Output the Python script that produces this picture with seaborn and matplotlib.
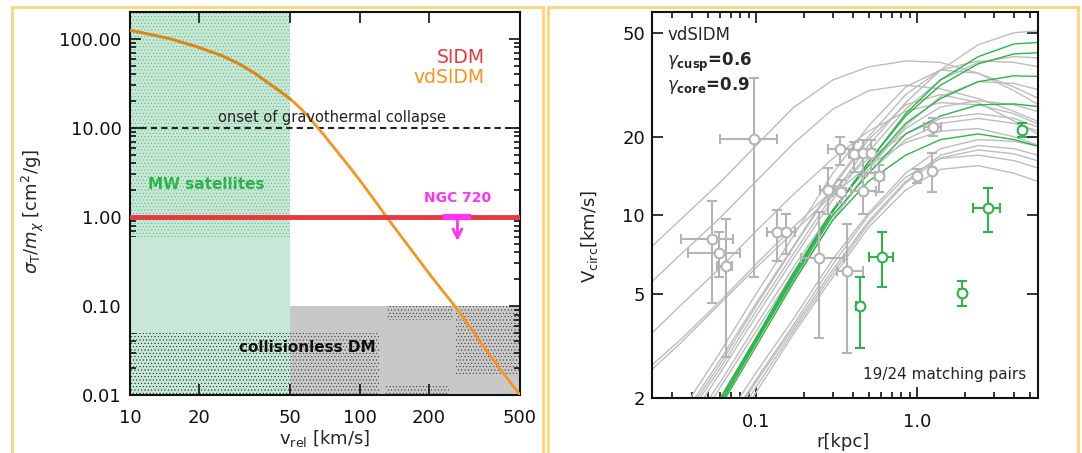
import matplotlib
matplotlib.use("Agg")
import matplotlib.pyplot as plt
from matplotlib.patches import Rectangle
from matplotlib.ticker import FixedLocator, FixedFormatter, NullLocator, NullFormatter
import numpy as np
import pandas as pd
import seaborn as sns

# ---- left panel: cross section vs relative velocity ----
v_rel = [10, 15, 20, 25, 30, 35, 40, 45, 50, 55, 60, 65, 70, 80, 90, 100, 115, 130,
         150, 170, 200, 230, 260, 300, 350, 420, 500]
sigma_vd = [125, 100, 80, 65, 52, 41, 32, 25.8, 21, 16.8, 13.3, 10.4, 8.3, 5.4, 3.7,
            2.6, 1.6, 1.03, 0.63, 0.41, 0.235, 0.148, 0.1, 0.06, 0.034, 0.018, 0.01]
sigma_sidm = 1.0
sigma_collapse = 10.0
mw_v = [10, 50]
cdm_v = [50, 500]
cdm_sigma = [0.01, 0.1]
ngc720_v = [232, 307]
ngc720_limit = 1.0
ngc720_arrow = [267, 0.5]
v_ticks = [10, 20, 50, 100, 200, 500]
v_ticklabels = ["10", "20", "50", "100", "200", "500"]
s_ticks = [0.01, 0.1, 1, 10, 100]
s_ticklabels = ["0.01", "0.10", "1.00", "10.00", "100.00"]

# ---- right panel: rotation curves ----
r_grid = [0.02, 0.035, 0.06, 0.1, 0.17, 0.3, 0.5, 0.85, 1.4, 2.4, 4.0, 6.0]
gray_curves = {
    "c2": [7.1, 9.8, 13.4, 18.5, 25.8, 33, 37, 39, 38.5, 35, 30, 26],
    "c3": [5.2, 7.2, 9.8, 13.5, 18.8, 25.5, 30, 31.5, 30.5, 28, 25, 22.5],
    "c4": [3.3, 4.6, 6.3, 8.7, 12, 16.5, 21, 25, 27, 26.5, 24.5, 22],
    "c5": [2.5, 3.4, 4.7, 6.5, 9, 12.5, 16.5, 20.5, 23.5, 24.5, 23.5, 21.5],
    "c6": [2.4, 3.3, 4.6, 6.3, 8.6, 12, 15.5, 19, 21, 21.5, 20, 18.3],
    "k1": [0.9, 1.6, 2.6, 4.3, 7.1, 12, 18.5, 27, 36, 45, 50, 51],
    "k2": [0.85, 1.5, 2.5, 4.1, 6.8, 11.5, 17.5, 25.5, 33, 38.5, 40.5, 40],
    "k3": [1.0, 1.7, 2.8, 4.6, 7.6, 13, 20, 29, 36, 39, 38.5, 36.8],
    "k4": [1.05, 1.8, 3.0, 5.0, 8.3, 14.5, 22, 31, 36, 35, 31, 27.6],
    "k5": [0.8, 1.4, 2.3, 3.8, 6.3, 10.5, 15.5, 21.5, 26, 27.5, 26.5, 24.7],
    "k6": [0.75, 1.3, 2.2, 3.6, 6.0, 10, 14.5, 19.5, 22.5, 23.5, 22.5, 20.8],
    "k7": [0.55, 0.95, 1.55, 2.5, 4.0, 6.8, 10.2, 14.5, 18, 19.5, 19.2, 18.3],
    "k8": [0.5, 0.85, 1.4, 2.3, 3.7, 6.2, 9.5, 13.5, 17, 18.5, 18, 16.8],
    "k9": [0.5, 0.85, 1.35, 2.2, 3.6, 6.0, 9.3, 13.3, 16.6, 17.8, 17.2, 16],
    "k10": [0.45, 0.8, 1.3, 2.1, 3.5, 5.8, 9.0, 12.5, 15, 15.5, 14.5, 13.3],
    "k11": [0.7, 1.2, 2.0, 3.3, 5.6, 9.6, 15, 22, 28.5, 32.5, 32, 30],
    "k12": [0.95, 1.65, 2.7, 4.5, 7.5, 12.8, 19.5, 26.5, 29, 27, 23, 20],
    "k13": [0.5, 0.9, 1.45, 2.35, 3.8, 6.5, 10, 14, 16.5, 17, 16.2, 15],
}
green_curves = {
    "ga": [0.55, 1.05, 1.9, 3.3, 5.8, 10.3, 16, 24.5, 33, 40.5, 45.3, 46],
    "gb": [0.55, 1.05, 1.95, 3.35, 5.9, 10.4, 16, 24, 31.5, 38, 41.5, 42],
    "gc": [0.56, 1.08, 2.0, 3.4, 6.0, 10.5, 15.5, 22.5, 28, 32.5, 34.2, 34],
    "gd": [0.54, 1.02, 1.9, 3.25, 5.7, 10, 14.5, 20.5, 24, 26.5, 26.7, 26],
    "ge": [0.53, 1.0, 1.85, 3.15, 5.5, 9.6, 13.5, 17, 19.5, 20.5, 19.5, 18.2],
}

# data points: r, V, r_lo, r_hi, V_lo, V_hi
gray_r = [0.097, 0.053, 0.059, 0.065, 0.135, 0.154, 0.246, 0.37, 0.333, 0.406, 0.46, 0.52,
          0.28, 0.337, 0.46, 0.58, 1.0, 1.25, 1.24]
gray_v = [19.6, 8.1, 7.2, 6.4, 8.6, 8.6, 6.85, 6.1, 17.9, 17.1, 17.3, 17.3,
          12.5, 12.3, 12.4, 14.2, 14.2, 21.8, 14.8]
gray_r_lo = [0.060, 0.034, 0.038, 0.057, 0.117, 0.140, 0.19, 0.32, 0.28, 0.38, 0.44, 0.50,
             0.25, 0.30, 0.39, 0.55, 0.97, 1.10, 1.20]
gray_r_hi = [0.135, 0.072, 0.080, 0.071, 0.150, 0.175, 0.35, 0.46, 0.40, 0.43, 0.48, 0.55,
             0.31, 0.36, 0.56, 0.62, 1.03, 1.40, 1.28]
gray_v_lo = [5.8, 4.6, 5.8, 2.87, 6.7, 7.1, 3.4, 2.97, 15.6, 14.7, 14.5, 14.5,
             10.1, 11.2, 10.1, 12.3, 13.3, 20.1, 12.3]
gray_v_hi = [33.6, 11.4, 8.6, 9.7, 10.5, 10.1, 10.3, 9.3, 20.0, 19.1, 19.5, 19.5,
             15.2, 13.7, 14.1, 15.6, 15.0, 23.6, 17.4]

green_r = [0.44, 0.61, 1.9, 2.76, 4.5]
green_v = [4.5, 6.9, 5.05, 10.7, 21.3]
green_r_lo = [0.42, 0.50, 1.82, 2.23, 4.35]
green_r_hi = [0.46, 0.71, 1.98, 3.28, 4.65]
green_v_lo = [3.1, 5.3, 4.5, 8.6, 20.0]
green_v_hi = [5.8, 8.6, 5.6, 12.7, 22.6]

r_ticks = [0.1, 1.0]
r_ticklabels = ["0.1", "1.0"]
vc_ticks = [2, 5, 10, 20, 50]
vc_ticklabels = ["2", "5", "10", "20", "50"]

sns.set_style("ticks")
plt.rcParams["font.family"] = ["DejaVu Sans"]
plt.rcParams["hatch.linewidth"] = 0.3

GREEN_FILL = "#C8E7D6"
GREEN_DOT = "#3DB56C"
GRAY_FILL = "#C8C8C8"
ORANGE = "#F7941D"
ORANGE_DARK = "#D4891E"
RED = "#E8383F"
MAGENTA = "#FF33F5"
GREEN = "#2FB34A"
LGRAY = "#BDBDBD"
FRAME = "#FFD37A"

fig = plt.figure(figsize=(10.82, 4.53), dpi=100)
ax1 = fig.add_axes([0.1201, 0.128, 0.3605, 0.8455])
ax2 = fig.add_axes([0.6026, 0.1214, 0.3567, 0.852])

# panel frames
for x0, x1 in [(12, 543), (548, 1078)]:
    fig.patches.append(Rectangle((x0 / 1082, -0.1), (x1 - x0) / 1082, 1.1 - 7 / 453,
                                 transform=fig.transFigure, fill=False,
                                 edgecolor=FRAME, lw=2))

# ---------------- left panel ----------------
ax1.set_xscale("log")
ax1.set_yscale("log")
ymax = 200

ax1.fill_between(mw_v, 0.01, ymax, facecolor=GREEN_FILL, edgecolor=GREEN_DOT,
                 hatch=".....", lw=0, zorder=0.5)
ax1.fill_between(mw_v, 0.05, 0.6, facecolor=GREEN_FILL, lw=0, zorder=0.6)
ax1.fill_between(cdm_v, cdm_sigma[0], cdm_sigma[1], facecolor=GRAY_FILL, lw=0, zorder=0.5)
# dotted shading artefacts of the collisionless region
for (xa, xb, ya, yb) in [(10, 50, 0.01, 0.05), (50, 122, 0.01, 0.05),
                         (132, 255, 0.07, 0.1), (263, 500, 0.017, 0.1),
                         (130, 245, 0.01, 0.013)]:
    ax1.fill_between([xa, xb], ya, yb, facecolor="none", edgecolor="#222222",
                     hatch=".....", lw=0, zorder=0.7)

ax1.axhline(sigma_collapse, color="#222222", lw=1.5, ls=(0, (3, 2)), zorder=2)

vd = pd.DataFrame({"v": v_rel, "sigma": sigma_vd})
sns.lineplot(data=vd, x="v", y="sigma", color=ORANGE, lw=2, ax=ax1, zorder=3)
sns.lineplot(data=vd[vd["v"] <= mw_v[1]], x="v", y="sigma", color=ORANGE_DARK, lw=2,
             ax=ax1, zorder=3)
ax1.axhline(sigma_sidm, color=RED, lw=3.5, zorder=4)

ax1.plot(ngc720_v, [ngc720_limit, ngc720_limit], color=MAGENTA, lw=4.5,
         solid_capstyle="butt", zorder=5)
ax1.annotate("", xy=(ngc720_arrow[0], ngc720_arrow[1]), xytext=(ngc720_arrow[0], ngc720_limit),
             arrowprops=dict(arrowstyle="->", color=MAGENTA, lw=2, mutation_scale=16),
             zorder=5)
ax1.text(np.sqrt(ngc720_v[0] * ngc720_v[1]), 1.35, "NGC 720", color=MAGENTA,
         fontsize=10, fontweight="bold", ha="center", va="bottom", zorder=5)

ax1.text(76, 10.7, "onset of gravothermal collapse", fontsize=10.5, ha="center",
         va="bottom", color="#222222", zorder=5)
ax1.text(0.91, 0.882, "SIDM", color=RED, fontsize=13.5, ha="right", va="center",
         transform=ax1.transAxes)
ax1.text(0.91, 0.83, "vdSIDM", color=ORANGE, fontsize=13.5, ha="right", va="center",
         transform=ax1.transAxes)
ax1.text(21.5, 2.3, "MW satellites", color=GREEN, fontsize=11, fontweight="bold",
         ha="center", va="center", zorder=5)
ax1.text(59.5, 0.034, "collisionless DM", color="#111111", fontsize=11,
         fontweight="bold", ha="center", va="center", zorder=5)

ax1.set_xlim(10, 500)
ax1.set_ylim(0.01, ymax)
ax1.xaxis.set_major_locator(FixedLocator(v_ticks))
ax1.xaxis.set_major_formatter(FixedFormatter(v_ticklabels))
ax1.xaxis.set_minor_locator(NullLocator())
ax1.yaxis.set_major_locator(FixedLocator(s_ticks))
ax1.yaxis.set_major_formatter(FixedFormatter(s_ticklabels))
ax1.yaxis.set_minor_formatter(NullFormatter())
ax1.set_xlabel(r"v$_{\rm rel}$ [km/s]", fontsize=13)
ax1.set_ylabel(r"$\sigma_{\rm T}/m_\chi$ [cm$^2$/g]", fontsize=13)
ax1.xaxis.set_label_coords(0.5, -0.085)
ax1.yaxis.set_label_coords(-0.215, 0.48)

# ---------------- right panel ----------------
rows = []
for name, vals in gray_curves.items():
    rows += [{"r": r, "V": v, "curve": name, "kind": "gray"} for r, v in zip(r_grid, vals)]
for name, vals in green_curves.items():
    rows += [{"r": r, "V": v, "curve": name, "kind": "green"} for r, v in zip(r_grid, vals)]
curves = pd.DataFrame(rows)

ax2.set_xscale("log")
ax2.set_yscale("log")
sns.lineplot(data=curves, x="r", y="V", hue="kind", units="curve", estimator=None,
             palette={"gray": LGRAY, "green": GREEN}, lw=1, legend=False, ax=ax2)


def draw_points(r, v, rlo, rhi, vlo, vhi, color):
    r = np.array(r)
    v = np.array(v)
    xerr = [r - np.array(rlo), np.array(rhi) - r]
    yerr = [v - np.array(vlo), np.array(vhi) - v]
    ax2.errorbar(r, v, xerr=xerr, yerr=yerr, fmt="o", color=color, ecolor=color,
                 mfc="white", mec=color, ms=7, mew=1.5, elinewidth=1.5, capsize=3.5,
                 capthick=1.5, zorder=4)


draw_points(gray_r, gray_v, gray_r_lo, gray_r_hi, gray_v_lo, gray_v_hi, "#B4B4B4")
draw_points(green_r, green_v, green_r_lo, green_r_hi, green_v_lo, green_v_hi, GREEN)

ax2.text(0.04, 0.94, "vdSIDM", fontsize=12, transform=ax2.transAxes, va="center")
ax2.text(0.04, 0.87, r"$\gamma_{\bf cusp}$=0.6", fontsize=12, fontweight="bold",
         transform=ax2.transAxes, va="center")
ax2.text(0.04, 0.81, r"$\gamma_{\bf core}$=0.9", fontsize=12, fontweight="bold",
         transform=ax2.transAxes, va="center")
ax2.text(0.97, 0.06, "19/24 matching pairs", fontsize=11, ha="right", va="center",
         transform=ax2.transAxes)

ax2.set_xlim(0.0226, 5.64)
ax2.set_ylim(2, 60)
ax2.xaxis.set_major_locator(FixedLocator(r_ticks))
ax2.xaxis.set_major_formatter(FixedFormatter(r_ticklabels))
ax2.xaxis.set_minor_formatter(NullFormatter())
ax2.yaxis.set_major_locator(FixedLocator(vc_ticks))
ax2.yaxis.set_major_formatter(FixedFormatter(vc_ticklabels))
ax2.yaxis.set_minor_locator(NullLocator())
ax2.set_xlabel("r[kpc]", fontsize=13)
ax2.set_ylabel(r"V$_{\rm circ}$[km/s]", fontsize=13)
ax2.xaxis.set_label_coords(0.495, -0.09)
ax2.yaxis.set_label_coords(-0.135, 0.42)

for ax in (ax1, ax2):
    ax.tick_params(which="both", direction="in", top=True, right=True, width=1.2,
                   labelsize=13, colors="#111111")
    ax.tick_params(which="major", length=8)
    ax.tick_params(which="minor", length=4)
    for sp in ax.spines.values():
        sp.set_linewidth(1.5)
        sp.set_color("#111111")
    ax.set_facecolor("white")
ax1.tick_params(axis="x", pad=10)
ax1.tick_params(axis="y", pad=6)
ax2.tick_params(axis="x", pad=11)
ax2.tick_params(axis="y", pad=5)

fig.savefig("out.png", dpi=100)
